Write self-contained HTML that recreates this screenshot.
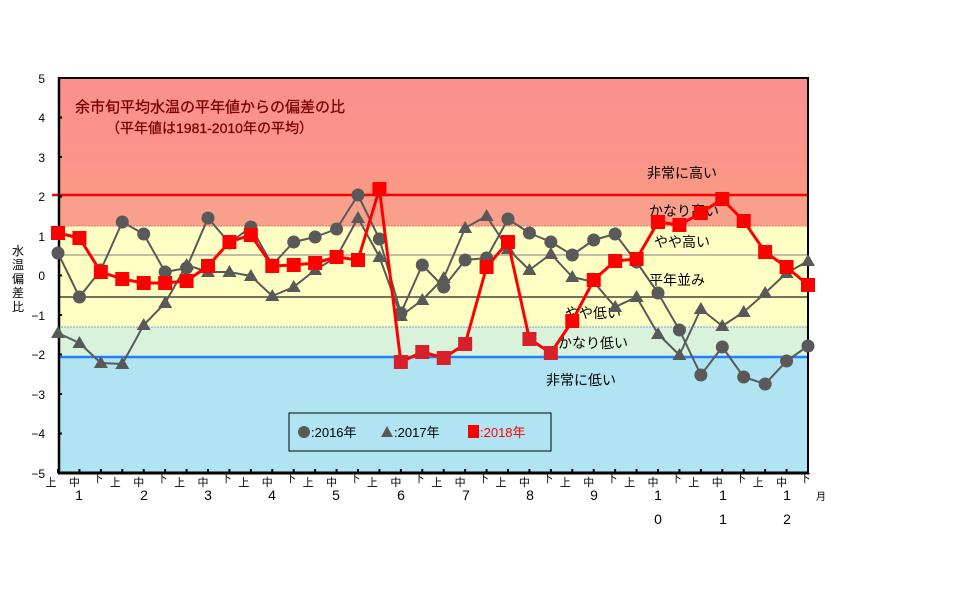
<!DOCTYPE html>
<html><head><meta charset="utf-8"><style>
body{margin:0;background:#fff}
svg{display:block;font-family:"Liberation Sans","Noto Sans CJK JP",sans-serif}
</style></head><body>
<svg width="979" height="606" viewBox="0 0 979 606" xmlns="http://www.w3.org/2000/svg">
<defs>
<linearGradient id="rg" x1="0" y1="0" x2="0" y2="1">
<stop offset="0" stop-color="#fb9090"/><stop offset="0.7" stop-color="#fb9488"/><stop offset="1" stop-color="#f99a84"/>
</linearGradient>
</defs>
<rect x="0" y="0" width="979" height="606" fill="#fff"/>
<rect x="58" y="78" width="750" height="117" fill="url(#rg)"/>
<rect x="58" y="195" width="750" height="31" fill="#f8a08c"/>
<rect x="58" y="226" width="750" height="101" fill="#ffffc4"/>
<rect x="58" y="327" width="750" height="30" fill="#d8f2dc"/>
<rect x="58" y="357" width="750" height="116" fill="#b0e4f2"/>
<line x1="58" y1="226" x2="808" y2="226" stroke="#f07070" stroke-width="1" stroke-dasharray="2,1"/>
<line x1="58" y1="327" x2="808" y2="327" stroke="#70a0d0" stroke-width="1" stroke-dasharray="2,1"/>
<line x1="58" y1="255" x2="808" y2="255" stroke="#999" stroke-width="1.2"/>
<line x1="58" y1="297" x2="808" y2="297" stroke="#222" stroke-width="1.2"/>
<line x1="52" y1="195" x2="808" y2="195" stroke="#ff0000" stroke-width="2.5"/>
<line x1="58" y1="357" x2="808" y2="357" stroke="#2080ff" stroke-width="2.5"/>
<line x1="58" y1="78" x2="808" y2="78" stroke="#000" stroke-width="2"/>
<line x1="59" y1="77" x2="59" y2="474" stroke="#000" stroke-width="2.5"/>
<line x1="808" y1="77" x2="808" y2="474" stroke="#000" stroke-width="2"/>
<line x1="58" y1="473" x2="809" y2="473" stroke="#000" stroke-width="3"/>
<g stroke="#000" stroke-width="2">
<line x1="58" y1="78" x2="62" y2="78"/><line x1="58" y1="117.5" x2="62" y2="117.5"/><line x1="58" y1="157" x2="62" y2="157"/><line x1="58" y1="196.5" x2="62" y2="196.5"/><line x1="58" y1="236" x2="62" y2="236"/><line x1="58" y1="275.5" x2="62" y2="275.5"/><line x1="58" y1="315" x2="62" y2="315"/><line x1="58" y1="354.5" x2="62" y2="354.5"/><line x1="58" y1="394" x2="62" y2="394"/><line x1="58" y1="433.5" x2="62" y2="433.5"/>
</g>
<g id="xt" stroke="#000" stroke-width="2"></g>
<g font-size="12" fill="#000" text-anchor="end">
<text x="45" y="83">5</text><text x="45" y="122">4</text><text x="45" y="162">3</text><text x="45" y="201">2</text><text x="45" y="241">1</text><text x="45" y="280">0</text><text x="45" y="320">−1</text><text x="45" y="359">−2</text><text x="45" y="399">−3</text><text x="45" y="438">−4</text><text x="45" y="478">−5</text>
</g>
<g font-size="12" fill="#000" text-anchor="middle">
<text x="18" y="255">水</text><text x="18" y="269">温</text><text x="18" y="283">偏</text><text x="18" y="297">差</text><text x="18" y="311">比</text>
</g>
<g fill="#7a0000" stroke="#7a0000" stroke-width="0.3">
<text x="75" y="112" font-size="15">余市旬平均水温の平年値からの偏差の比</text>
<text x="106" y="133" font-size="14">（平年値は1981-2010年の平均）</text>
</g>
<g font-size="14" fill="#000">
<text x="647" y="178">非常に高い</text><text x="649" y="216">かなり高い</text><text x="654" y="247">やや高い</text><text x="649" y="285">平年並み</text><text x="565" y="318">やや低い</text><text x="558" y="348">かなり低い</text><text x="546" y="385">非常に低い</text>
</g>
<g id="series"></g>
<rect x="289" y="413" width="262" height="38" fill="none" stroke="#000" stroke-width="1"/>
<circle cx="304" cy="432" r="6" fill="#595959"/>
<text x="311" y="437" font-size="13" fill="#000">:2016年</text>
<polygon points="387,426 381,437 393,437" fill="#595959"/>
<text x="394" y="437" font-size="13" fill="#000">:2017年</text>
<rect x="468" y="425" width="11" height="13" fill="#ff0000"/>
<text x="480" y="437" font-size="13" fill="#ff0000">:2018年</text>
<g id="xl" font-size="11" fill="#000" text-anchor="middle"></g>
<g font-size="14" fill="#000" text-anchor="middle">
<text x="79" y="500">1</text><text x="144" y="500">2</text><text x="208" y="500">3</text><text x="272" y="500">4</text><text x="336" y="500">5</text><text x="401" y="500">6</text><text x="466" y="500">7</text><text x="530" y="500">8</text><text x="594" y="500">9</text><text x="658" y="500">1</text><text x="723" y="500">1</text><text x="787" y="500">1</text>
<text x="658" y="524">0</text><text x="723" y="524">1</text><text x="787" y="524">2</text>
</g>
<text x="821" y="500" font-size="10" fill="#000" text-anchor="middle">月</text>
<script>
var ns="http://www.w3.org/2000/svg";
function X(i){return 58+i*750/35;}
var a=[253,297,270,222,234,272,268,218,243,227,265,242,237,229,195,239,313,265,287,260,258,219,233,242,255,240,234,262,293,330,375,347,377,384,361,346];
var b=[333,343,363,364,325,303,265,272,272,276,296,287,270,257,218,257,316,300,278,228,216,249,270,254,277,282,307,297,334,355,309,326,312,293,273,261];
var c=[233,238,272,279,283,283,281,266,242,235,266,265,263,257,260,189,362,352,358,344,267,242,339,353,321,280,261,259,222,225,213,199,221,252,267,285];
var g=document.getElementById("series");
function pl(d,col,w){var p=document.createElementNS(ns,"polyline");p.setAttribute("points",d.map(function(y,i){return X(i)+","+y}).join(" "));p.setAttribute("fill","none");p.setAttribute("stroke",col);p.setAttribute("stroke-width",w);p.setAttribute("stroke-linejoin","round");g.appendChild(p);}
pl(a,"#595959",2);pl(b,"#595959",2);
a.forEach(function(y,i){var e=document.createElementNS(ns,"circle");e.setAttribute("cx",X(i));e.setAttribute("cy",y);e.setAttribute("r",6.5);e.setAttribute("fill","#595959");g.appendChild(e);});
b.forEach(function(y,i){var e=document.createElementNS(ns,"polygon");var x=X(i);e.setAttribute("points",x+","+(y-7)+" "+(x-7)+","+(y+5)+" "+(x+7)+","+(y+5));e.setAttribute("fill","#595959");g.appendChild(e);});
pl(c,"#ff0000",3);
c.forEach(function(y,i){var e=document.createElementNS(ns,"rect");e.setAttribute("x",X(i)-7);e.setAttribute("y",y-7);e.setAttribute("width",14);e.setAttribute("height",14);e.setAttribute("fill",(y>330&&y<370&&i>15&&i<24)?"#d8202a":"#ff0000");g.appendChild(e);});
var xt=document.getElementById("xt"),xl=document.getElementById("xl"),lab=["上","中","下"];
for(var i=0;i<36;i++){var x=X(i);var t=document.createElementNS(ns,"line");t.setAttribute("x1",x);t.setAttribute("x2",x);t.setAttribute("y1",469);t.setAttribute("y2",473);xt.appendChild(t);
var s=document.createElementNS(ns,"text");s.setAttribute("x",x-7+(i%3)*2);s.setAttribute("y",i%3==2?482:486);s.textContent=lab[i%3];xl.appendChild(s);}
</script>
</svg>
</body></html>
